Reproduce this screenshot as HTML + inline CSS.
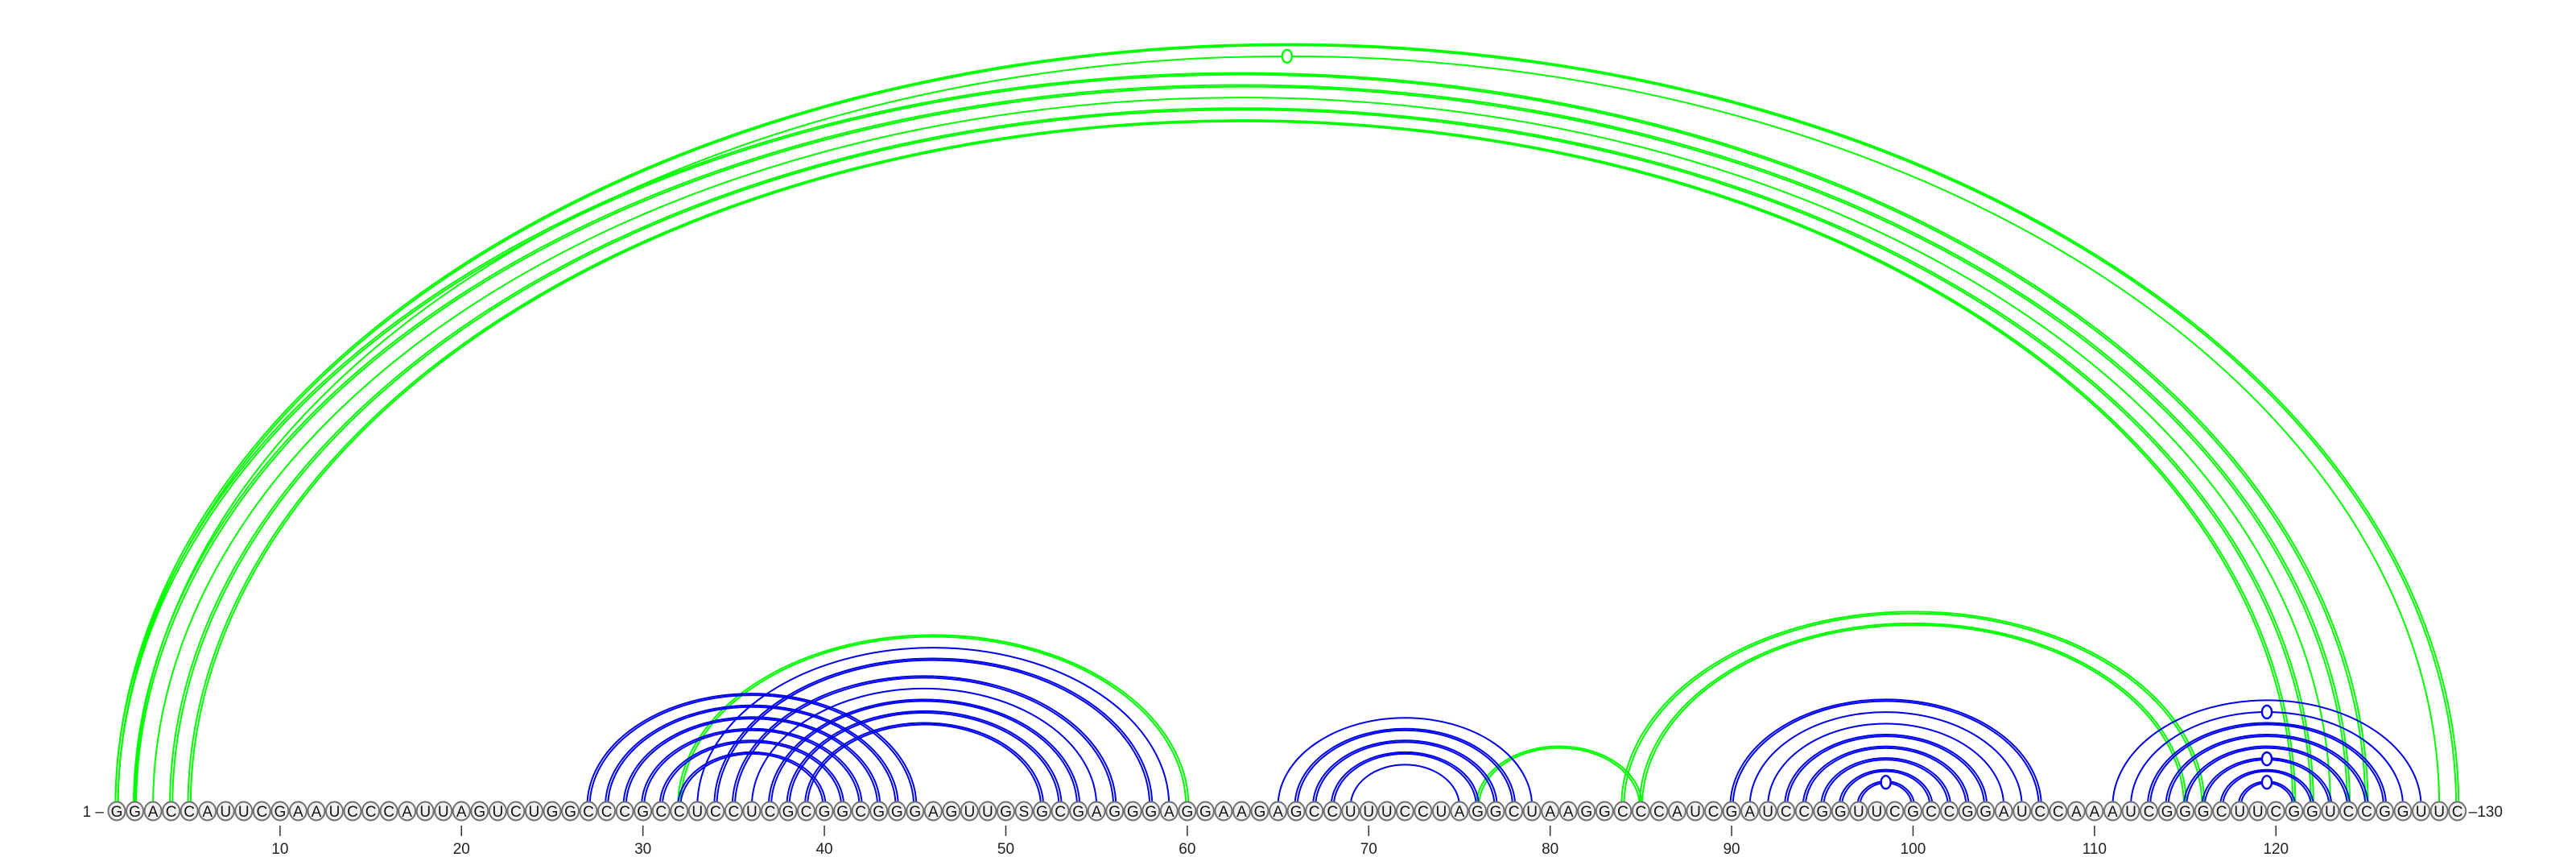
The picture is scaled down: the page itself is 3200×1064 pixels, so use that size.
<!DOCTYPE html>
<html><head><meta charset="utf-8"><style>
html,body{margin:0;padding:0;background:#fff;}
svg{display:block;font-family:"Liberation Sans",sans-serif;}
</style></head><body>
<svg id="chart" width="3200" height="1064" viewBox="0 0 3200 1064" xmlns="http://www.w3.org/2000/svg">
<g id="arcs"></g>
<g id="nts"></g>
<g id="axis"></g>
</svg>
<script>
const sequence = "GGACCAUUCGAAUCCCAUUAGUCUGGCCCGCCUCCUCGCGGCGGGAGUUGSGCGAGGGAGGAAGAGCCUUUCCUAGGCUAAGGCCCAUCGAUCCGGUUCGCCGGAUCCAAAUCGGGCUUCGGUCCGGUUC";
const tickPositions = [10,20,30,40,50,60,70,80,90,100,110,120];
const pairI =   [1,  2,  1,  2,  3,  4,  5,  32, 76, 84, 85, 27,28,29,30,31,32, 33,34,35,36,37,38,39, 65,66,67,68,69, 90,91,92,93,94,95,96,97, 111,112,113,114,115,116,117,118];
const pairJ =   [130,129,125,124,123,122,121,60, 85, 116,115,45,44,43,42,41,40, 59,58,56,55,54,53,52, 79,78,77,76,75, 107,106,105,104,103,102,101,100, 128,127,126,125,124,123,122,121];
const pairColor=["g","g","g","g","g","g","g","g","g","g","g","b","b","b","b","b","b","b","b","b","b","b","b","b","b","b","b","b","b","b","b","b","b","b","b","b","b","b","b","b","b","b","b","b","b"];
const pairLines=[2,1,2,2,1,2,2,2,2,2,2, 2,2,2,2,2,2, 1,2,2,1,2,2,2, 1,2,2,2,1, 2,1,1,2,2,2,2,2, 1,1,2,2,2,2,2,2];
const markers = [[2,129],[97,100],[112,127],[116,123],[118,121]];

const NS="http://www.w3.org/2000/svg";
const x0=145, dx=22.54, baseY=1007, arcY=1001, ratio=0.645;
function xPos(p){return x0+(p-1)*dx;}
function mk(tag,attrs,parent){const e=document.createElementNS(NS,tag);for(const k in attrs)e.setAttribute(k,attrs[k]);parent.appendChild(e);return e;}
const arcsG=document.getElementById('arcs'), ntG=document.getElementById('nts'), axG=document.getElementById('axis');
const colors={g:"#00ff00",b:"#0000ee"};
function arcPath(i,j,off){
  const a=xPos(i)-off, b=xPos(j)+off, rx=(b-a)/2, ry=rx*ratio+8;
  return "M"+a+" "+arcY+" A"+rx+" "+ry+" 0 0 1 "+b+" "+arcY;
}
for(let k=0;k<pairI.length;k++){
  const c=colors[pairColor[k]];
  const offs = pairLines[k]===2?[-1.6,1.6]:[0];
  for(const o of offs){
    const p=mk('path',{d:arcPath(pairI[k],pairJ[k],o),fill:"none",stroke:c,"stroke-width":2},arcsG);
    
    
  }
}
for(const [i,j] of markers){
  const rx=(xPos(j)-xPos(i))/2, ry=rx*ratio+8;
  const isG = (i<5);
  const cx=(xPos(i)+xPos(j))/2, cy=arcY-ry;
  const m=mk('ellipse',{cx:cx,cy:cy,rx:6,ry:8,fill:"#fff",stroke:isG?colors.g:colors.b,"stroke-width":2.4},arcsG);
  
  
}
for(let p=1;p<=sequence.length;p++){
  const g=mk('g',{},ntG);
  
  
  mk('ellipse',{cx:xPos(p),cy:baseY,rx:10.5,ry:11.5,fill:"#f0f0f0",stroke:"#707070","stroke-width":2},g);
  const t=mk('text',{x:xPos(p),y:baseY+7,"text-anchor":"middle","font-size":19,fill:"#111"},g);
  t.textContent=sequence[p-1];
}
const l1=mk('text',{x:xPos(1)-16,y:baseY+7,"text-anchor":"end","font-size":19,fill:"#222"},axG);
l1.textContent="1 –";


const l2=mk('text',{x:xPos(130)+14,y:baseY+7,"text-anchor":"start","font-size":19,fill:"#222"},axG);
l2.textContent="–130";


for(const t of tickPositions){
  const ln=mk('line',{x1:xPos(t),x2:xPos(t),y1:1025,y2:1038,stroke:"#333","stroke-width":1.5},axG);
  
  
  const tx=mk('text',{x:xPos(t),y:1060,"text-anchor":"middle","font-size":19,fill:"#222"},axG);
  tx.textContent=String(t);
  
  
}
</script>
</body></html>
